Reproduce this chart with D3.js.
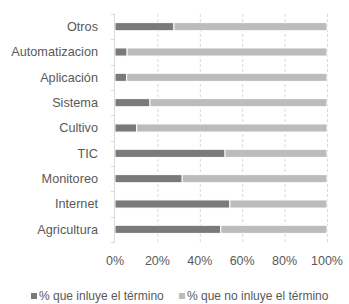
<!DOCTYPE html>
<html><head><meta charset="utf-8">
<script src="https://cdn.jsdelivr.net/npm/d3@7"></script>
<style>
html,body{margin:0;padding:0;background:#fff;}
svg{display:block;font-family:"Liberation Sans",Arial,sans-serif;}
</style></head>
<body><svg id="c" width="349" height="304"></svg>
<script>
const categories = ["Otros","Automatizacion","Aplicación","Sistema","Cultivo","TIC","Monitoreo","Internet","Agricultura"];
const influye = [27.8, 5.7, 5.5, 16.5, 10.2, 51.9, 31.7, 54.2, 49.9];
const noInfluye = categories.map((c,i)=>100-influye[i]);
const seriesNames = ["% que inluye el término","% que no inluye el término"];
const xTicks = [0,20,40,60,80,100];
const colors = ["#7a7a7a","#bcbcbc"];

const svg = d3.select("#c");
const m = {left:115, right:22, top:14, bottom:62};
const W = 349, H = 304;
const x = d3.scaleLinear().domain([0,100]).range([m.left, W-m.right]);
const y = d3.scaleBand().domain(categories).range([m.top, H-m.bottom]).paddingInner(0.68).paddingOuter(0.34);
const yb = d3.scaleBand().domain(categories).range([m.top, H-m.bottom]);

// gridlines
svg.append("g").selectAll("line").data(xTicks.slice(1)).join("line")
  .attr("x1",d=>x(d)+0.5).attr("x2",d=>x(d)+0.5)
  .attr("y1",m.top).attr("y2",H-m.bottom)
  .attr("stroke","#d9d9d9").attr("stroke-width",1).attr("stroke-dasharray","3,2");

const rows = categories.map((c,i)=>({c, a:influye[i], b:noInfluye[i]}));
const g = svg.append("g");
g.selectAll("rect.a").data(rows).join("rect").attr("class","a")
  .attr("x",x(0)).attr("y",d=>y(d.c)).attr("width",d=>x(d.a)-x(0)).attr("height",y.bandwidth())
  .attr("fill",colors[0]).attr("stroke","#fff").attr("stroke-width",1);
g.selectAll("rect.b").data(rows).join("rect").attr("class","b")
  .attr("x",d=>x(d.a)).attr("y",d=>y(d.c)).attr("width",d=>x(100)-x(d.a)).attr("height",y.bandwidth())
  .attr("fill",colors[1]).attr("stroke","#fff").attr("stroke-width",1);

// y axis line and ticks
const ax = svg.append("g");
ax.append("line").attr("x1",x(0)-0.5).attr("x2",x(0)-0.5).attr("y1",m.top).attr("y2",H-m.bottom).attr("stroke","#d9d9d9");
const bounds = categories.map(c=>yb(c)).concat([H-m.bottom]);
ax.selectAll("line.t").data(bounds).join("line").attr("class","t")
  .attr("x1",x(0)-4).attr("x2",x(0)).attr("y1",d=>Math.round(d)+0.5).attr("y2",d=>Math.round(d)+0.5).attr("stroke","#d9d9d9");
ax.selectAll("text").data(categories).join("text")
  .attr("x",98).attr("y",d=>yb(d)+yb.bandwidth()/2).attr("dy","0.35em")
  .attr("text-anchor","end").attr("fill","#595959").attr("font-size",12.7).text(d=>d);

// x tick labels
svg.append("g").selectAll("text").data(xTicks).join("text")
  .attr("x",d=>x(d)).attr("y",265).attr("text-anchor","middle")
  .attr("fill","#595959").attr("font-size",12.5).text(d=>d+"%");

// legend
const leg = svg.append("g");
const lx = [31,179];
seriesNames.forEach((n,i)=>{
  leg.append("rect").attr("x",lx[i]).attr("y",293).attr("width",6).attr("height",6).attr("fill",colors[i]);
  leg.append("text").attr("x",lx[i]+8).attr("y",296).attr("dy","0.35em").attr("fill","#595959").attr("font-size",12).text(n);
});
</script></body></html>
